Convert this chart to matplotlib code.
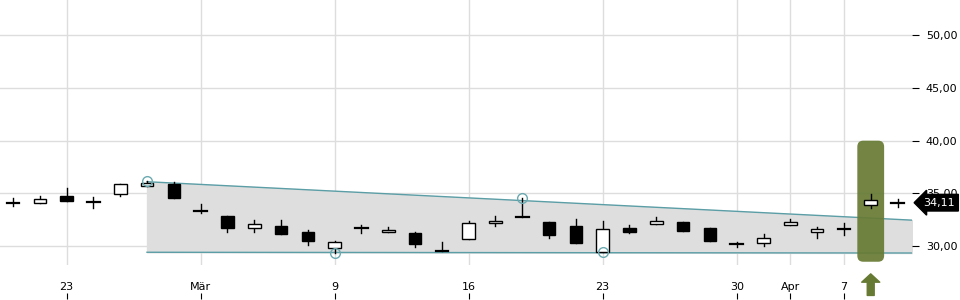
import matplotlib
matplotlib.use('Agg')
import matplotlib.pyplot as plt
from matplotlib.patches import FancyBboxPatch
import matplotlib.transforms as mtransforms

# Kursdaten
opens  = [34.05, 34.05, 34.75, 34.23, 34.91, 35.67, 35.86, 33.35, 32.85, 31.74,
          31.90, 31.33, 29.78, 31.70, 31.30, 31.23, 29.52, 30.64, 32.16, 32.75,
          32.28, 31.90, 29.40, 31.74, 32.12, 32.28, 31.71, 30.16, 30.26, 32.03,
          31.33, 31.58, 33.89, 34.13]
highs  = [34.53, 34.78, 35.48, 34.62, 35.86, 36.17, 36.10, 33.96, 32.85, 32.47,
          32.47, 31.52, 30.50, 32.00, 31.78, 31.36, 30.35, 32.37, 32.82, 34.60,
          32.28, 32.56, 32.37, 32.00, 32.72, 32.28, 31.71, 30.38, 31.14, 32.56,
          31.83, 32.16, 34.91, 34.43]
lows   = [33.83, 34.05, 34.30, 33.64, 34.78, 35.67, 34.59, 33.16, 31.36, 31.36,
          31.17, 30.10, 29.36, 31.27, 31.30, 29.93, 29.52, 30.64, 31.93, 32.75,
          30.79, 30.31, 29.38, 31.27, 32.12, 31.45, 30.50, 29.93, 30.03, 32.03,
          30.79, 31.05, 33.64, 33.73]
closes = [34.05, 34.43, 34.30, 34.19, 35.86, 35.98, 34.59, 33.33, 31.68, 32.09,
          31.17, 30.50, 30.38, 31.66, 31.52, 30.22, 29.52, 32.16, 32.35, 32.75,
          31.07, 30.31, 31.61, 31.36, 32.37, 31.45, 30.50, 30.16, 30.76, 32.25,
          31.58, 31.58, 34.37, 34.11]

tick_pos = [2, 7, 12, 17, 22, 27, 29, 31]
tick_labels = ['23', 'Mär', '9', '16', '23', '30', 'Apr', '7']

y_ticks = [30, 35, 40, 45, 50]
y_labels = ['30,00', '35,00', '40,00', '45,00', '50,00']

# Trendkanal
channel_x = [5, 33.54]
channel_upper = [36.10, 32.45]
channel_lower = [29.40, 29.33]
pivot_x = [5, 12, 19, 22]
pivot_y = [36.17, 29.36, 34.60, 29.38]

signal_idx = 32
signal_box = (28.5, 40.0)
last_price = 34.11

fig = plt.figure(figsize=(9.6, 3), dpi=100)
ax = fig.add_axes([0, 0.117, 0.95, 0.883])

ax.set_xlim(-0.485, 33.54)
ax.set_ylim(28.2, 53.36)

# Gitter
for y in y_ticks:
    ax.axhline(y, color='#dddddd', lw=1, zorder=0)
for x in tick_pos:
    ax.axvline(x, color='#dddddd', lw=1, zorder=0)

# Kanal
ax.fill_between(channel_x, channel_lower, channel_upper, color='#dedede', zorder=1)
ax.plot(channel_x, channel_upper, color='#5b9ea6', lw=1, zorder=2)
ax.plot(channel_x, channel_lower, color='#5b9ea6', lw=1, zorder=2)

# Signal-Box
box = FancyBboxPatch((signal_idx - 0.5, signal_box[0]), 1.0, signal_box[1] - signal_box[0],
                     boxstyle='round,pad=0,rounding_size=0.22', mutation_aspect=2.6,
                     fc='#677a33', ec='none', alpha=0.92, zorder=3)
ax.add_patch(box)

# Kerzen
w = 0.47
for i in range(len(opens)):
    o, h, l, c = opens[i], highs[i], lows[i], closes[i]
    ax.plot([i, i], [l, h], color='black', lw=1, zorder=4)
    if abs(o - c) < 0.05:
        ax.plot([i - w / 2, i + w / 2], [c, c], color='black', lw=1.6, zorder=5)
    else:
        fc = 'white' if c > o else 'black'
        ax.add_patch(plt.Rectangle((i - w / 2, min(o, c)), w, abs(c - o),
                                   fc=fc, ec='black', lw=1, zorder=5))

ax.plot(pivot_x, pivot_y, 'o', ms=7, mfc='none', mec='#6aaab0', mew=1, zorder=6)

# Pfeil unten
ax.annotate('', xy=(signal_idx, 27.35), xytext=(signal_idx, 25.3),
            arrowprops=dict(arrowstyle='simple,head_length=0.6,head_width=1.3,tail_width=0.5',
                            color='#677a33', shrinkA=0, shrinkB=0),
            annotation_clip=False)

# Achsen
for s in ax.spines.values():
    s.set_visible(False)
ax.yaxis.tick_right()
ax.set_yticks(y_ticks)
ax.set_yticklabels(y_labels)
ax.tick_params(axis='y', length=5, pad=5, labelsize=8, colors='black')
ax.set_xticks(tick_pos)
ax.set_xticklabels(tick_labels)
ax.tick_params(axis='x', length=0, pad=12, labelsize=8)

sec = ax.secondary_xaxis(-0.106)
sec.set_xticks(tick_pos)
sec.set_xticklabels([])
sec.tick_params(length=4, direction='out')
sec.spines['bottom'].set_visible(False)

# Kursmarke
trans = mtransforms.blended_transform_factory(ax.transAxes, ax.transData)
ax.text(1.0125, last_price, '34,11', transform=trans, color='white',
        fontsize=8, va='center', ha='left', zorder=10,
        bbox=dict(boxstyle='larrow,pad=0.3', fc='black', ec='black'))

fig.savefig('out.png', dpi=100)
